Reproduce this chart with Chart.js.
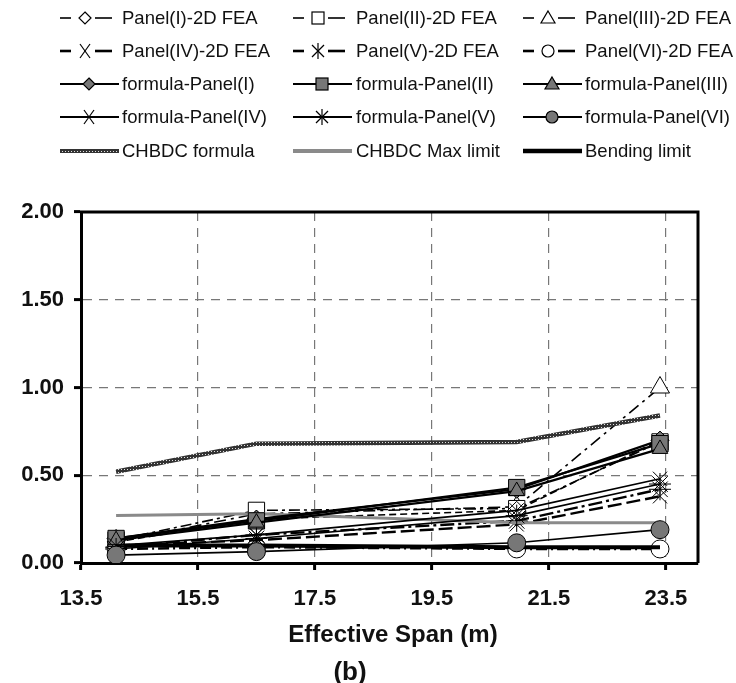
<!DOCTYPE html>
<html>
<head>
<meta charset="utf-8">
<script src="https://cdn.jsdelivr.net/npm/chart.js@4/dist/chart.umd.min.js"></script>
<style>
  html, body { margin:0; padding:0; background:#fff; }
  #wrap { position:relative; width:736px; height:683px; overflow:hidden; font-family:"Liberation Sans", Arial, sans-serif; }
  #c { position:absolute; left:0; top:0; }
  .lg { position:absolute; font-size:18.5px; color:#111; white-space:nowrap; line-height:20px; }
  .sw { position:absolute; }
  .ttl { position:absolute; font-weight:bold; color:#111; white-space:nowrap; transform:translate(-50%,-50%); }
</style>
</head>
<body>
<div id="wrap">
  <canvas id="c" width="736" height="683"></canvas>
  <div id="legend"></div>
  <div class="ttl" style="left:393px; top:634px; font-size:24px;">Effective Span (m)</div>
  <div class="ttl" style="left:350px; top:671px; font-size:26px;">(b)</div>
</div>
<script>
// ---- data ----
const spans = [14.1, 16.5, 20.95, 23.4];
const xTicks = [13.5, 15.5, 17.5, 19.5, 21.5, 23.5];
const yTicks = [0, 0.5, 1.0, 1.5, 2.0];

const fea1 = [0.12, 0.25, 0.30, 0.70];
const fea2 = [0.13, 0.30, 0.31, 0.69];
const fea3 = [0.12, 0.28, 0.32, 1.00];
const fea4 = [0.10, 0.13, 0.22, 0.38];
const fea5 = [0.09, 0.16, 0.24, 0.42];
const fea6 = [0.08, 0.09, 0.08, 0.08];

const form1 = [0.14, 0.25, 0.42, 0.70];
const form2 = [0.14, 0.24, 0.43, 0.68];
const form3 = [0.13, 0.23, 0.41, 0.65];
const form4 = [0.10, 0.16, 0.30, 0.48];
const form5 = [0.08, 0.14, 0.27, 0.45];
const form6 = [0.045, 0.065, 0.115, 0.19];

const chbdcFormula = [0.52, 0.68, 0.69, 0.84];
const chbdcMax = [0.27, 0.28, 0.23, 0.23];
const bending = [0.10, 0.10, 0.09, 0.09];

const labels = [
  'Panel(I)-2D FEA','Panel(II)-2D FEA','Panel(III)-2D FEA',
  'Panel(IV)-2D FEA','Panel(V)-2D FEA','Panel(VI)-2D FEA',
  'formula-Panel(I)','formula-Panel(II)','formula-Panel(III)',
  'formula-Panel(IV)','formula-Panel(V)','formula-Panel(VI)',
  'CHBDC formula','CHBDC Max limit','Bending limit'
];

// ---- styles ----
const FONT = '"Liberation Sans", Arial, sans-serif';
const pts = arr => spans.map((x, i) => ({x, y: arr[i]}));

// textured pattern for CHBDC formula
const pc = document.createElement('canvas');
pc.width = 3; pc.height = 3;
const pctx = pc.getContext('2d');
pctx.fillStyle = '#333'; pctx.fillRect(0,0,3,3);
pctx.fillStyle = '#e0e0e0'; pctx.fillRect(1,1,1,1);
const ctx = document.getElementById('c').getContext('2d');
const pattern = ctx.createPattern(pc, 'repeat');

const feaDash = [[7,4],[11,4,3,4],[12,5,3,5],[14,5],[14,4,3,4],[11,4,2,4]];
const markerStyles = ['rectRot','rect','triangle','crossRot','star','circle'];
const markerRadius = [9, 11.5, 9, 10, 11, 9];
const formOrder = [3.3, 3.2, 3.1, 3.0, 3.0, 2.9];
const fea = [fea1,fea2,fea3,fea4,fea5,fea6];
const form = [form1,form2,form3,form4,form5,form6];

const datasets = [];
fea.forEach((arr, i) => {
  datasets.push({
    label: labels[i], data: pts(arr),
    borderColor:'#000', borderWidth: i < 3 ? 1.6 : 2.4, borderDash: feaDash[i],
    pointStyle: markerStyles[i], pointRadius: i === 2 ? 11 : markerRadius[i],
    pointBackgroundColor: '#fff', pointBorderColor:'#000', pointBorderWidth: 1,
    tension:0, fill:false, order: 6
  });
});
datasets.push({label: labels[12], data: pts(chbdcFormula), borderColor: pattern, borderWidth: 4.5, pointRadius: 0, tension:0, order: 5});
datasets.push({label: labels[13], data: pts(chbdcMax), borderColor: '#8a8a8a', borderWidth: 3, pointRadius: 0, tension:0, order: 4});
datasets.push({label: labels[14], data: pts(bending), borderColor: '#000', borderWidth: 4, pointRadius: 0, tension:0, order: 4});
form.forEach((arr, i) => {
  datasets.push({
    label: labels[6+i], data: pts(arr),
    borderColor:'#000', borderWidth: i < 3 ? 2.2 : 1.6,
    pointStyle: markerStyles[i], pointRadius: markerRadius[i],
    pointBackgroundColor: '#777', pointBorderColor:'#000', pointBorderWidth: 1,
    tension:0, fill:false, order: formOrder[i]
  });
});

const frame = {
  id:'frame',
  afterDatasetsDraw(chart){
    const a = chart.chartArea, c = chart.ctx;
    c.save();
    c.strokeStyle = '#000'; c.lineWidth = 3; c.setLineDash([]);
    c.beginPath();
    c.moveTo(a.left-1, a.top); c.lineTo(a.right, a.top); c.lineTo(a.right, a.bottom);
    c.stroke();
    c.restore();
  }
};

const tickFont = {family: FONT, size: 22, weight: 'bold'};
new Chart(ctx, {
  type:'line',
  data:{datasets},
  options:{
    responsive:false, animation:false, devicePixelRatio:1,
    layout:{padding:{top:212, right:38, left:0, bottom:0}},
    plugins:{legend:{display:false}, tooltip:{enabled:false}},
    scales:{
      x:{
        type:'linear', min:13.5, max:24.05,
        afterBuildTicks: s => { s.ticks = xTicks.map(v => ({value:v})); },
        afterFit: s => { s.height = 120; },
        ticks:{font:tickFont, color:'#111', padding:16, maxRotation:0, callback: v => Number(v).toFixed(1)},
        grid:{color:'#777', lineWidth:1.2, tickColor:'#000', tickWidth:3, tickLength:7},
        border:{color:'#000', width:3, dash:[9,7]}
      },
      y:{
        min:0, max:2,
        afterBuildTicks: s => { s.ticks = yTicks.map(v => ({value:v})); },
        afterFit: s => { s.width = 81; },
        ticks:{font:tickFont, color:'#111', padding:10, callback: v => Number(v).toFixed(2)},
        grid:{color:'#777', lineWidth:1.2, tickColor:'#000', tickWidth:3, tickLength:7},
        border:{color:'#000', width:3, dash:[9,7]}
      }
    }
  },
  plugins:[frame]
});

// ---- HTML legend ----
function markerSVG(style, cx, cy, fill){
  const s = 'stroke="#000" stroke-width="1.2"';
  switch(style){
    case 'rectRot': return `<polygon points="${cx},${cy-6} ${cx+6},${cy} ${cx},${cy+6} ${cx-6},${cy}" fill="${fill}" ${s}/>`;
    case 'rect': return `<rect x="${cx-6}" y="${cy-6}" width="12" height="12" fill="${fill}" ${s}/>`;
    case 'triangle': return `<polygon points="${cx},${cy-7} ${cx+7},${cy+5} ${cx-7},${cy+5}" fill="${fill}" ${s}/>`;
    case 'crossRot': return `<line x1="${cx-5}" y1="${cy-7}" x2="${cx+5}" y2="${cy+7}" ${s}/><line x1="${cx+5}" y1="${cy-7}" x2="${cx-5}" y2="${cy+7}" ${s}/>`;
    case 'star': return `<line x1="${cx}" y1="${cy-8}" x2="${cx}" y2="${cy+8}" ${s}/><line x1="${cx-6}" y1="${cy-6}" x2="${cx+6}" y2="${cy+6}" ${s}/><line x1="${cx+6}" y1="${cy-6}" x2="${cx-6}" y2="${cy+6}" ${s}/>`;
    case 'circle': return `<circle cx="${cx}" cy="${cy}" r="6" fill="${fill}" ${s}/>`;
  }
  return '';
}
const colSw = [58, 291, 521];
const colTx = [122, 356, 585];
const rowY = [18, 51, 84, 117, 151];
let html = '';
for (let k = 0; k < 15; k++){
  const r = Math.floor(k/3), c = k%3;
  let svg = '';
  const cy = 10;
  if (r < 2){
    const i = k;
    const w = i < 3 ? 1.6 : 2.6;
    svg = `<line x1="2" y1="${cy}" x2="13" y2="${cy}" stroke="#000" stroke-width="${w}"/>` +
          `<line x1="37" y1="${cy}" x2="54" y2="${cy}" stroke="#000" stroke-width="${w}"/>` +
          markerSVG(markerStyles[i], 27, cy, '#fff');
  } else if (r < 4){
    const i = k - 6;
    svg = `<line x1="2" y1="${cy}" x2="61" y2="${cy}" stroke="#000" stroke-width="2.2"/>` +
          markerSVG(markerStyles[i], 31, cy, '#777');
  } else if (k === 12){
    svg = `<defs><pattern id="pt" width="3" height="3" patternUnits="userSpaceOnUse"><rect width="3" height="3" fill="#333"/><rect x="1" y="1" width="1" height="1" fill="#e0e0e0"/></pattern></defs>` +
          `<rect x="2" y="${cy-2}" width="59" height="4" fill="url(#pt)"/>`;
  } else if (k === 13){
    svg = `<line x1="2" y1="${cy}" x2="61" y2="${cy}" stroke="#8a8a8a" stroke-width="4"/>`;
  } else {
    svg = `<line x1="2" y1="${cy}" x2="61" y2="${cy}" stroke="#000" stroke-width="4.5"/>`;
  }
  html += `<svg class="sw" width="64" height="20" style="left:${colSw[c]}px; top:${rowY[r]-10}px">${svg}</svg>`;
  html += `<div class="lg" style="left:${colTx[c]}px; top:${rowY[r]-10}px">${labels[k]}</div>`;
}
document.getElementById('legend').innerHTML = html;
</script>
</body>
</html>
